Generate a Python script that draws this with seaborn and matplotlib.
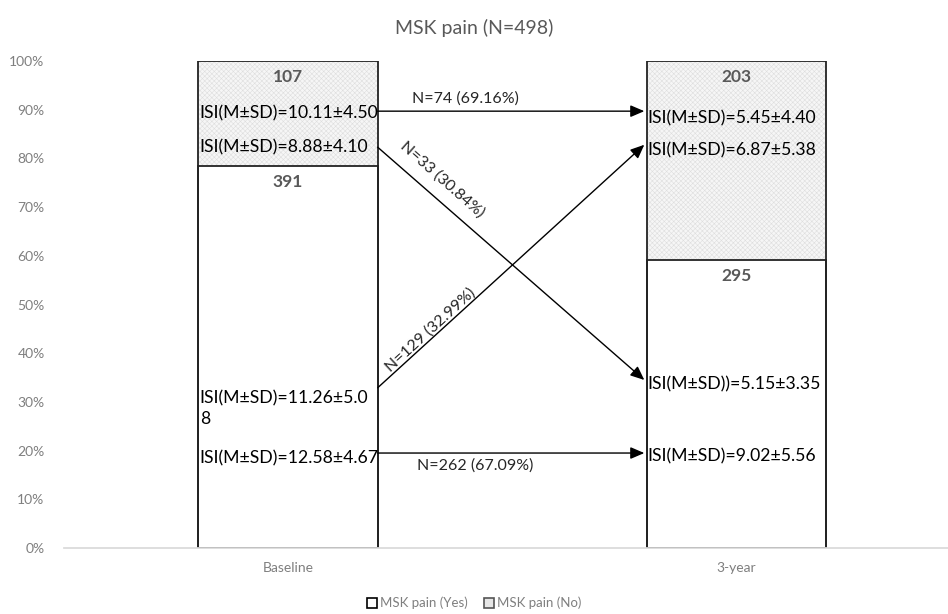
import matplotlib
matplotlib.use("Agg")
import matplotlib.pyplot as plt
import matplotlib.patches as mpatches
import seaborn as sns
import pandas as pd

# chart data
waves = ["Baseline", "3-year"]
top_counts = [107, 203]       # hatched upper block
bottom_counts = [391, 295]    # white lower block
n_total = 498

isi_base = ["ISI(M\u00b1SD)=10.11\u00b14.50", "ISI(M\u00b1SD)=8.88\u00b14.10",
            "ISI(M\u00b1SD)=11.26\u00b15.0\n8", "ISI(M\u00b1SD)=12.58\u00b14.67"]
isi_base_y = [89.3, 82.3, 28.6, 18.5]
isi_3yr = ["ISI(M\u00b1SD)=5.45\u00b14.40", "ISI(M\u00b1SD)=6.87\u00b15.38",
           "ISI(M\u00b1SD))=5.15\u00b13.35", "ISI(M\u00b1SD)=9.02\u00b15.56"]
isi_3yr_y = [88.3, 81.7, 33.5, 18.9]

# transitions: (start %, end %, label)
flows = [(89.7, 89.7, "N=74 (69.16%)"),
         (82.3, 34.5, "N=33 (30.84%)"),
         (32.9, 82.8, "N=129 (32.99%)"),
         (19.5, 19.5, "N=262 (67.09%)")]

df = pd.DataFrame({"wave": waves,
                   "total": [100.0, 100.0],
                   "bottom": [b / n_total * 100 for b in bottom_counts]})

sns.set_theme(style="white")
plt.rcParams["font.family"] = ["Lato", "DejaVu Sans"]
plt.rcParams["hatch.linewidth"] = 0.4
grey = "#7f7f7f"

fig = plt.figure(figsize=(9.48, 6.14), dpi=100)
ax = fig.add_axes([64 / 948, 66 / 614, 1 - 64 / 948, 487 / 614])

# hatched upper block (full height underneath)
sns.barplot(data=df, x="wave", y="total", width=0.4, color="#f6f6f6", ax=ax)
for p in ax.patches:
    p.set_hatch("xxxxxxx")
    p.set_edgecolor("#dedede")
    p.set_linewidth(0)
n_hatch = len(ax.patches)
# white lower block
sns.barplot(data=df, x="wave", y="bottom", width=0.4, color="white", ax=ax)
for p in ax.patches[n_hatch:]:
    p.set_edgecolor("#222222")
    p.set_linewidth(1.3)
# outline
sns.barplot(data=df, x="wave", y="total", width=0.4, fill=False, ax=ax)
for p in ax.patches[2 * n_hatch:]:
    p.set_edgecolor("#222222")
    p.set_linewidth(1.3)

ax.set_xlim(-0.5, (948 - 287.5) / 448.5)
ax.set_ylim(0, 100)
ax.set_yticks(range(0, 101, 10))
ax.set_yticklabels([f"{v}%" for v in range(0, 101, 10)], color=grey, fontsize=10)
ax.set_xticks([0, 1])
ax.set_xticklabels(waves, color=grey, fontsize=10)
ax.tick_params(axis="both", length=0)
ax.tick_params(axis="x", pad=10)
ax.tick_params(axis="y", pad=14)
ax.set_xlabel("")
ax.set_ylabel("")
for s in ["top", "right", "left"]:
    ax.spines[s].set_visible(False)
ax.spines["bottom"].set_color("#d9d9d9")

# counts
for i in range(2):
    ax.text(i, 96.7, str(top_counts[i]), ha="center", va="center",
            fontsize=12.5, fontweight="bold", color="#595959")
    ax.text(i, bottom_counts[i] / n_total * 100 - 3.3, str(bottom_counts[i]),
            ha="center", va="center", fontsize=12.5, fontweight="bold", color="#595959")

for txt, y in zip(isi_base, isi_base_y):
    ax.text(-0.197, y, txt, ha="left", va="center", fontsize=12.7,
            color="black", linespacing=1.3)
for txt, y in zip(isi_3yr, isi_3yr_y):
    ax.text(0.802, y, txt, ha="left", va="center", fontsize=12.7, color="black")

# arrows
for y0, y1, lab in flows:
    ax.annotate("", xy=(0.795, y1), xytext=(0.2, y0),
                arrowprops=dict(arrowstyle="-|>,head_length=0.7,head_width=0.3",
                                color="black", lw=1, shrinkA=0, shrinkB=0))

ax.text(0.395, 92.3, flows[0][2], ha="center", va="center", fontsize=11.5)
ax.text(0.418, 16.9, flows[3][2], ha="center", va="center", fontsize=11.5)
ax.text(0.345, 75.6, flows[1][2], ha="center", va="center", fontsize=11.5,
        rotation=-41.5)
ax.text(0.318, 44.8, flows[2][2], ha="center", va="center", fontsize=11.5,
        rotation=42.5)

fig.text(0.5, 1 - 28 / 614, "MSK pain (N=498)", ha="center", va="center",
         fontsize=14, color="#595959")

handles = [mpatches.Patch(facecolor="white", edgecolor="black", lw=1.2,
                          label="MSK pain (Yes)"),
           mpatches.Patch(facecolor="#e6e6e6", edgecolor="#555555", lw=1.2,
                          label="MSK pain (No)")]
fig.legend(handles=handles, loc="center", bbox_to_anchor=(0.5, 1 - 603 / 614),
           ncol=2, frameon=False, fontsize=9.5, handlelength=0.8,
           handleheight=0.8, handletextpad=0.2, columnspacing=1.2,
           labelcolor=grey)

fig.savefig("out.png", dpi=100)
